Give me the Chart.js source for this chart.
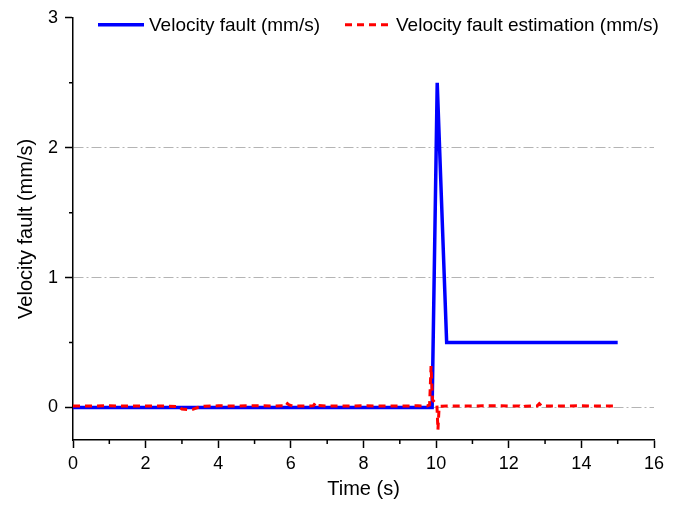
<!DOCTYPE html>
<html>
<head>
<meta charset="utf-8">
<script src="https://cdn.jsdelivr.net/npm/chart.js@4.4.0/dist/chart.umd.min.js"></script>
<style>
  body { margin: 0; background: #fff; }
</style>
</head>
<body>
<canvas id="myChart" width="681" height="509"></canvas>
<script>
'use strict'

// Velocity fault (blue, solid)
let faultTime = [0, 9.89, 10.03, 10.29, 15];
let faultValue = [0, 0, 2.5, 0.5, 0.5];

// Velocity fault estimation (red, dashed)
let estTime = [0, 0.5, 1, 1.5, 2, 2.5, 2.9, 3.0, 3.15, 3.3, 3.45, 3.6, 4, 4.5, 5, 5.5, 5.8, 5.87, 5.95, 6.05, 6.5, 6.62, 6.68, 6.75, 7, 7.5, 8, 8.5, 9, 9.5, 9.75, 9.82, 9.86, 9.9, 9.96, 10.02, 10.05, 10.08, 10.12, 10.3, 10.8, 11.3, 11.76, 12, 12.3, 12.37, 12.45, 12.78, 12.84, 12.9, 13.5, 14, 14.5, 15];
let estValue = [0.012, 0.012, 0.013, 0.012, 0.012, 0.012, 0.008, -0.012, -0.016, -0.014, 0.002, 0.01, 0.013, 0.012, 0.014, 0.012, 0.014, 0.037, 0.02, 0.012, 0.012, 0.014, 0.037, 0.015, 0.012, 0.012, 0.013, 0.012, 0.012, 0.013, 0.012, 0.02, 0.32, 0.06, 0.04, 0.03, -0.17, -0.01, 0.01, 0.012, 0.012, 0.013, 0.014, 0.012, 0.012, 0.0, 0.01, 0.012, 0.03, 0.012, 0.012, 0.013, 0.012, 0.012];

let xTickValues = [0, 2, 4, 6, 8, 10, 12, 14, 16];
let xMinorValues = [1, 3, 5, 7, 9, 11, 13, 15];
let yTickValues = [0, 1, 2, 3];
let yMinorValues = [0.5, 1.5, 2.5];

let seriesNames = ['Velocity fault (mm/s)', 'Velocity fault estimation (mm/s)'];

function toPoints(xs, ys) {
  return xs.map((x, i) => ({ x: x, y: ys[i] }));
}

let fontName = "'Liberation Sans', Arial, sans-serif";

// minor ticks + legend drawn inside the plot
let extras = {
  id: 'extras',
  afterDraw(chart) {
    let ctx = chart.ctx;
    let xs = chart.scales.x;
    let ys = chart.scales.y;
    let area = chart.chartArea;
    ctx.save();
    ctx.strokeStyle = '#000';
    ctx.lineWidth = 1.5;
    ctx.beginPath();
    xMinorValues.forEach(v => {
      let px = xs.getPixelForValue(v);
      ctx.moveTo(px, area.bottom);
      ctx.lineTo(px, area.bottom + 4);
    });
    yMinorValues.forEach(v => {
      let py = ys.getPixelForValue(v);
      ctx.moveTo(area.left, py);
      ctx.lineTo(area.left - 4, py);
    });
    ctx.stroke();

    // legend
    let ly = area.top + 7;
    ctx.font = '19px ' + fontName;
    ctx.textBaseline = 'middle';
    ctx.fillStyle = '#000';

    ctx.strokeStyle = '#0000ff';
    ctx.lineWidth = 3.5;
    ctx.beginPath();
    ctx.moveTo(area.left + 25, ly);
    ctx.lineTo(area.left + 71, ly);
    ctx.stroke();
    ctx.fillText(seriesNames[0], area.left + 76, ly + 1);

    ctx.strokeStyle = '#ff0000';
    ctx.lineWidth = 3;
    ctx.setLineDash([7, 5]);
    ctx.beginPath();
    ctx.moveTo(area.left + 272, ly);
    ctx.lineTo(area.left + 318, ly);
    ctx.stroke();
    ctx.setLineDash([]);
    ctx.fillText(seriesNames[1], area.left + 323, ly + 1);
    ctx.restore();
  }
};

let ctx = document.getElementById('myChart').getContext('2d');

let chart = new Chart(ctx, {
  type: 'line',
  data: {
    datasets: [
      {
        label: seriesNames[0],
        data: toPoints(faultTime, faultValue),
        borderColor: '#0000ff',
        borderWidth: 3.5,
        pointRadius: 0,
        tension: 0,
        order: 2
      },
      {
        label: seriesNames[1],
        data: toPoints(estTime, estValue),
        borderColor: '#ff0000',
        borderWidth: 3,
        borderDash: [7, 5],
        pointRadius: 0,
        tension: 0,
        order: 1
      }
    ]
  },
  options: {
    responsive: false,
    animation: false,
    devicePixelRatio: 1,
    layout: { padding: { left: 10, right: 27, top: 17.5, bottom: 4 } },
    plugins: {
      legend: { display: false },
      tooltip: { enabled: false }
    },
    scales: {
      x: {
        type: 'linear',
        min: 0,
        max: 16,
        afterBuildTicks: scale => { scale.ticks = xTickValues.map(v => ({ value: v })); },
        afterFit: scale => { scale.height = 65; },
        grid: {
          drawOnChartArea: false,
          tickLength: 8,
          tickColor: '#000',
          tickWidth: 1.5
        },
        border: { color: '#000', width: 1.5 },
        ticks: {
          color: '#000',
          padding: 5,
          maxRotation: 0,
          font: { family: fontName, size: 18 }
        },
        title: {
          display: true,
          text: 'Time (s)',
          color: '#000',
          padding: { top: 4 },
          font: { family: fontName, size: 20 }
        }
      },
      y: {
        type: 'linear',
        min: -0.25,
        max: 3,
        afterBuildTicks: scale => { scale.ticks = yTickValues.map(v => ({ value: v })); },
        afterFit: scale => { scale.width = 63; },
        grid: {
          color: c => (c.tick && c.tick.value === 3) ? 'rgba(0,0,0,0)' : '#b4b4b4',
          lineWidth: 1,
          tickLength: 8,
          tickColor: '#000',
          tickWidth: 1.5
        },
        border: { color: '#000', width: 1.5, dash: [10, 3, 2, 3] },
        ticks: {
          color: '#000',
          padding: 7,
          font: { family: fontName, size: 18 }
        },
        title: {
          display: true,
          text: 'Velocity fault (mm/s)',
          color: '#000',
          padding: { bottom: 6 },
          font: { family: fontName, size: 20 }
        }
      }
    }
  },
  plugins: [extras]
});
</script>
</body>
</html>
